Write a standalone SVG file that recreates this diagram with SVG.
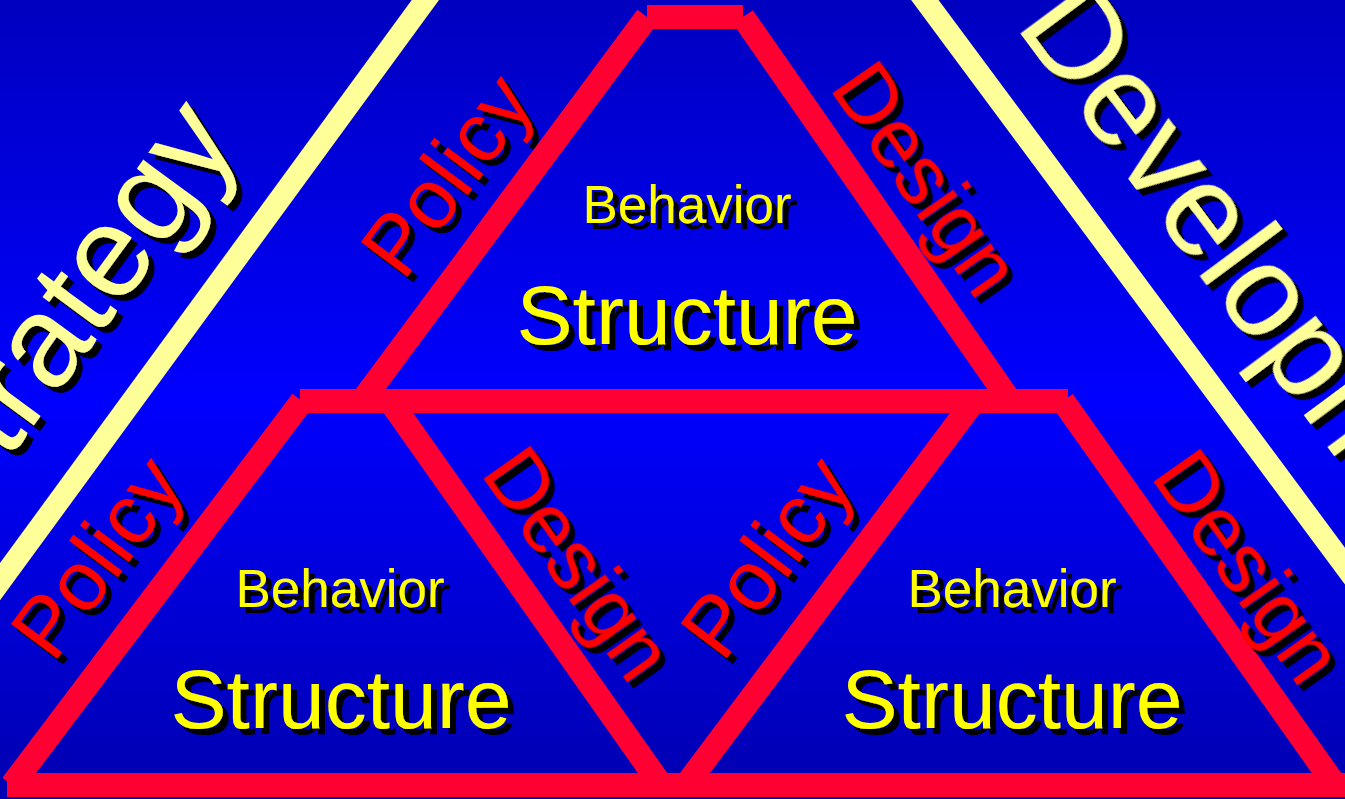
<svg xmlns="http://www.w3.org/2000/svg" width="1345" height="799" viewBox="0 0 1345 799">
  <defs>
    <linearGradient id="bg" x1="0" y1="0" x2="0" y2="1">
      <stop offset="0" stop-color="#0000C0"/>
      <stop offset="0.5" stop-color="#0000FF"/>
      <stop offset="1" stop-color="#0000B0"/>
    </linearGradient>
    <!-- hard black drop shadow, offset down-right in screen space -->
    <filter id="shadow" x="-20%" y="-20%" width="140%" height="140%">
      <feOffset in="SourceAlpha" dx="6" dy="6" result="off"/>
      <feMerge>
        <feMergeNode in="off"/>
        <feMergeNode in="SourceGraphic"/>
      </feMerge>
    </filter>
    <style>
      .frame { stroke: #FFFF99; stroke-width: 22; fill: none; }
      .edge { stroke: #FF0033; stroke-width: 24; fill: none; stroke-linecap: butt; }
      text { font-family: "Liberation Sans", Arial, sans-serif; }
      .big { font-size: 130px; fill: #FFFF99; }
      .side { font-size: 84px; fill: #FF0000; text-anchor: middle; }
      .beh { font-size: 53px; fill: #FFFF00; text-anchor: middle; }
      .str { font-size: 84px; fill: #FFFF00; text-anchor: middle; }
    </style>
  </defs>

  <rect x="0" y="0" width="1345" height="799" fill="url(#bg)"/>

  <!-- outer frame: two sides of the large triangle -->
  <g id="outer-frame">
    <path class="frame" d="M440,-20 L-28,620"/>
    <path class="frame" d="M910,-20 L1385,620"/>
    <g filter="url(#shadow)">
      <text class="big" text-anchor="end" transform="translate(242,141) rotate(-53.8)">Strategy</text>
      <text class="big" text-anchor="start" transform="translate(1014,25) rotate(53.4)">Development</text>
    </g>
  </g>

  <!-- edges of the three trapezoids -->
  <g id="connectors">
    <path class="edge" d="M647,17 H743"/>
    <path class="edge" d="M647,17 L362,401"/>
    <path class="edge" d="M743,17 L1010,401"/>
    <path class="edge" d="M300,401 H1068"/>
    <path class="edge" d="M302,401 L12,785"/>
    <path class="edge" d="M390,401 L661,785"/>
    <path class="edge" d="M7,785 H678"/>
    <path class="edge" d="M974,401 L686,785"/>
    <path class="edge" d="M1063,401 L1335,785"/>
    <path class="edge" d="M678,785 H1350"/>
  </g>

  <g id="node-top" filter="url(#shadow)">
    <text class="side" transform="translate(470,192) rotate(-53.4)">Policy</text>
    <text class="side" transform="translate(903,195) rotate(55.2)">Design</text>
    <text class="beh" x="687" y="223">Behavior</text>
    <text class="str" x="687" y="344">Structure</text>
  </g>

  <g id="node-left" filter="url(#shadow)">
    <text class="side" transform="translate(120,574) rotate(-53.4)">Policy</text>
    <text class="side" transform="translate(555,580) rotate(54.8)">Design</text>
    <text class="beh" x="340" y="607">Behavior</text>
    <text class="str" x="341" y="728">Structure</text>
  </g>

  <g id="node-right" filter="url(#shadow)">
    <text class="side" transform="translate(790,574) rotate(-53.1)">Policy</text>
    <text class="side" transform="translate(1225,583) rotate(54.8)">Design</text>
    <text class="beh" x="1012" y="607">Behavior</text>
    <text class="str" x="1012" y="728">Structure</text>
  </g>
</svg>
